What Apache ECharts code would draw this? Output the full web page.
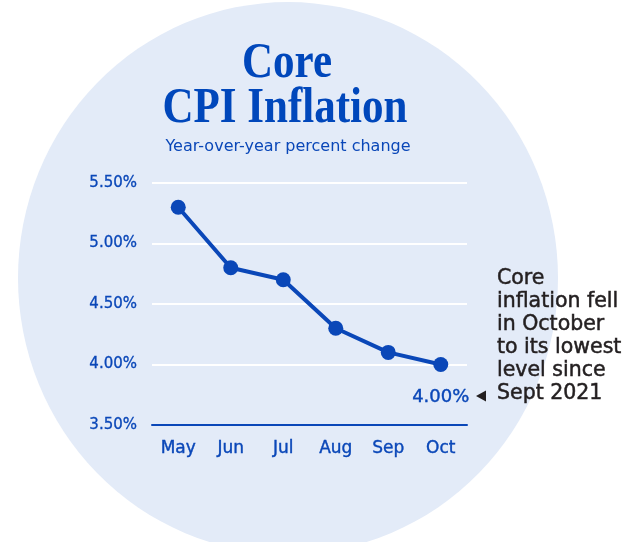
<!DOCTYPE html>
<html style="height: 100%">
<head>
<meta charset="UTF-8">
<title>Core CPI Inflation</title>
<script src="https://cdn.jsdelivr.net/npm/echarts@6/dist/echarts.min.js"></script>
</head>
<body style="height: 100%;margin: 0;background:#fff">
<div id="chart" style="width:628px;height:542px"></div>
<script type="text/javascript">
// chart data
var months = ['May', 'Jun', 'Jul', 'Aug', 'Sep', 'Oct'];
var coreCpi = [5.3, 4.8, 4.7, 4.3, 4.1, 4.0];
var noteLines = ['Core', 'inflation fell', 'in October', 'to its lowest', 'level since', 'Sept 2021'];

var blue = '#0a47b8';
var sans = '"DejaVu Sans", sans-serif';

// only the last point gets a value label
var seriesData = [];
for (var i = 0; i < coreCpi.length; i++) {
	if (i == coreCpi.length - 1) {
		seriesData.push({
			value: coreCpi[i],
			label: {
				show: true,
				position: 'bottom',
				distance: 16,
				color: blue,
				fontFamily: sans,
				fontSize: 18,
				textBorderColor: blue,
				textBorderWidth: 0.4,
				formatter: function (p) { return p.value.toFixed(2) + '%'; }
			}
		});
	} else {
		seriesData.push(coreCpi[i]);
	}
}

var myChart = echarts.init(document.getElementById('chart'));
var option = {
	backgroundColor: '#ffffff',
	animation: false,
	graphic: [
		{
			// light blue disc behind everything
			type: 'circle',
			z: -10,
			x: 288, y: 278,
			scaleY: 1.022,
			shape: { cx: 0, cy: 0, r: 270 },
			style: { fill: '#e3ebf8' }
		},
		{
			type: 'text',
			x: 287, y: 64,
			scaleX: 0.86,
			style: {
				text: 'Core',
				fill: '#0047bb',
				font: 'bold 50px "Liberation Serif", serif',
				textAlign: 'center',
				textVerticalAlign: 'middle'
			}
		},
		{
			type: 'text',
			x: 285, y: 109,
			scaleX: 0.86,
			style: {
				text: 'CPI Inflation',
				fill: '#0047bb',
				font: 'bold 50px "Liberation Serif", serif',
				textAlign: 'center',
				textVerticalAlign: 'middle'
			}
		},
		{
			type: 'text',
			x: 288, y: 147,
			style: {
				text: 'Year-over-year percent change',
				fill: blue,
				font: '16px ' + sans,
				textAlign: 'center',
				textVerticalAlign: 'middle'
			}
		},
		{
			type: 'text',
			x: 497, y: 267,
			style: {
				text: noteLines.join('\n'),
				fill: '#231f20',
				font: '20.5px ' + sans,
				lineHeight: 23,
				textAlign: 'left',
				textVerticalAlign: 'top',
				stroke: '#231f20',
				lineWidth: 0.5
			}
		},
		{
			type: 'polygon',
			shape: { points: [[476, 396], [486, 390.5], [486, 401.5]] },
			style: { fill: '#231f20' }
		}
	],
	grid: {
		left: 152,
		right: 161,
		top: 183,
		height: 242
	},
	xAxis: {
		type: 'category',
		data: months,
		boundaryGap: true,
		axisLine: { lineStyle: { color: blue, width: 2 } },
		axisTick: { show: false },
		axisLabel: {
			color: blue,
			fontFamily: sans,
			fontSize: 17,
			margin: 15,
			textBorderColor: blue,
			textBorderWidth: 0.4
		}
	},
	yAxis: {
		type: 'value',
		min: 3.5,
		max: 5.5,
		interval: 0.5,
		axisLine: { show: false },
		axisTick: { show: false },
		splitLine: { lineStyle: { color: '#ffffff', width: 2 } },
		axisLabel: {
			color: blue,
			fontFamily: sans,
			fontSize: 15,
			margin: 15,
			textBorderColor: blue,
			textBorderWidth: 0.3,
			formatter: function (v) { return v.toFixed(2) + '%'; }
		}
	},
	series: [{
		type: 'line',
		data: seriesData,
		symbol: 'circle',
		symbolSize: 15,
		lineStyle: { color: blue, width: 4 },
		itemStyle: { color: blue }
	}]
};
myChart.setOption(option);
</script>
</body>
</html>
